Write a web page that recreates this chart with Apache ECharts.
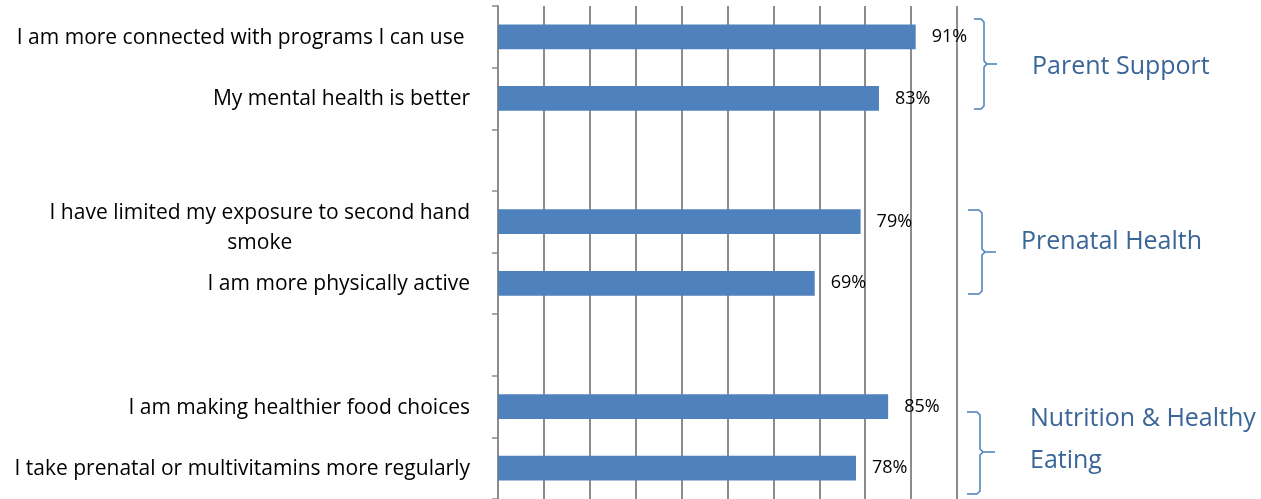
<!DOCTYPE html>
<html>
<head>
<meta charset="utf-8">
<script src="https://cdn.jsdelivr.net/npm/echarts@6/dist/echarts.min.js"></script>
<style>
  html, body { margin: 0; padding: 0; background: #ffffff; }
  #chart { width: 1261px; height: 499px; }
</style>
</head>
<body>
<div id="chart"></div>
<script>
// Survey outcomes, top to bottom; blank entries are spacer rows between groups
const categories = [
  'I am more connected with programs I can use ',
  'My mental health is better',
  '',
  'I have limited my exposure to second hand\nsmoke',
  'I am more physically active',
  ' ',
  'I am making healthier food choices',
  'I take prenatal or multivitamins more regularly'
];
const percentAgree = [91, 83, null, 79, 69, null, 85, 78];
const groupNames = ['Parent Support', 'Prenatal Health', 'Nutrition & Healthy\nEating'];

const FONT = '"Open Sans", Lato, sans-serif';
const BRACE = '#4a7ebb';
const GROUP_TEXT = '#3a6598';

// right-facing curly brace built from two polylines
function brace(xL, xV, xTip, yTop, yMid, yBot) {
  const r = 3;
  const style = { stroke: BRACE, lineWidth: 1.5, fill: null };
  return [
    { type: 'polyline', silent: true, style,
      shape: { points: [[xL, yTop], [xV - r, yTop], [xV, yTop + r], [xV, yMid - r], [xV + r, yMid], [xTip, yMid]] } },
    { type: 'polyline', silent: true, style,
      shape: { points: [[xV + r, yMid], [xV, yMid + r], [xV, yBot - r], [xV - r, yBot], [xL, yBot]] } }
  ];
}

// wrapped category names get centred lines, nudged down to sit on the band centre
const yAxisData = categories.map(function (name) {
  if (name.indexOf('\n') >= 0) {
    return { value: name, textStyle: { padding: [12, 0, 0, 0] } };
  }
  return { value: name, textStyle: { padding: [2, 0, 0, 0] } };
});

const chart = echarts.init(document.getElementById('chart'), null, { renderer: 'canvas' });

chart.setOption({
  backgroundColor: '#ffffff',
  animation: false,
  grid: { left: 498, right: 304, top: 6, bottom: -11, containLabel: false },
  xAxis: {
    type: 'value',
    min: 0,
    max: 100,
    interval: 10,
    axisLabel: { show: false },
    axisLine: { show: false },
    axisTick: { show: false },
    splitLine: { show: true, lineStyle: { color: '#8c8c8c', width: 2 } }
  },
  yAxis: {
    type: 'category',
    inverse: true,
    data: yAxisData,
    axisLine: { show: true, lineStyle: { color: '#8c8c8c', width: 2 } },
    axisTick: { show: true, length: 6, alignWithLabel: false, lineStyle: { color: '#8c8c8c', width: 1.5 } },
    axisLabel: {
      margin: 28,
      fontFamily: FONT,
      fontSize: 21,
      color: '#000000',
      formatter: function (v) {
        if (v.indexOf('\n') >= 0) {
          return v.split('\n').map(function (s) { return '{c|' + s + '}'; }).join('\n');
        }
        return v;
      },
      rich: {
        c: { align: 'center', fontFamily: FONT, fontSize: 21, lineHeight: 30, color: '#000000' }
      }
    }
  },
  series: [{
    type: 'bar',
    data: percentAgree,
    barWidth: '40%',
    itemStyle: { color: '#4f81bd' },
    label: {
      show: true,
      position: 'right',
      distance: 16,
      padding: [3, 0, 0, 0],
      formatter: '{c}%',
      fontFamily: FONT,
      fontSize: 18,
      color: '#000000'
    }
  }],
  graphic: [].concat(
    brace(974, 984, 997, 19, 64, 109),
    brace(968, 982, 996, 210, 252, 294),
    brace(967, 980, 995, 412, 452, 494),
    [
      { type: 'text', silent: true, left: 1032, top: 54,
        style: { text: groupNames[0], font: '25px ' + FONT, fill: GROUP_TEXT } },
      { type: 'text', silent: true, left: 1021, top: 229,
        style: { text: groupNames[1], font: '25px ' + FONT, fill: GROUP_TEXT } },
      { type: 'text', silent: true, left: 1030, top: 398,
        style: { text: groupNames[2], font: '25px ' + FONT, fill: GROUP_TEXT, lineHeight: 42 } }
    ]
  )
});
</script>
</body>
</html>
